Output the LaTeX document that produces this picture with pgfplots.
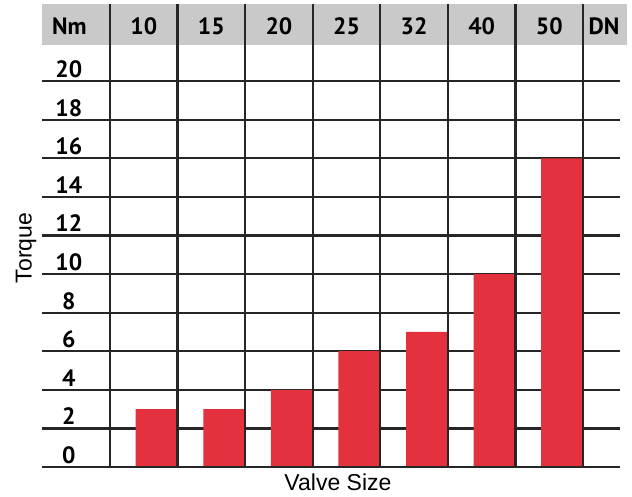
\documentclass[border=0pt]{standalone}
\usepackage{fontspec}
\setmainfont{PT Sans}
\newfontfamily\arial{Liberation Sans}
\usepackage{pgfplots}
\pgfplotsset{compat=1.18}
\definecolor{barred}{HTML}{E3313D}
\definecolor{headgray}{HTML}{C9C9C9}
\definecolor{gridc}{HTML}{262626}

\begin{document}
\begin{tikzpicture}
\begin{axis}[
  set layers=standard,
  scale only axis,
  width=292.3pt, height=231.5pt,
  xmin=-1, xmax=7.65, ymin=0, ymax=24,
  axis line style={draw=none},
  major tick length=0pt,
  clip=false,
  ybar, bar width=0.62,
  xtick={-0.6,0.5,1.5,2.5,3.5,4.5,5.5,6.5,7.31},
  xticklabels={Nm,10,15,20,25,32,40,50,DN},
  xticklabel pos=upper,
  xticklabel style={anchor=base, yshift=-15.5pt,
    font=\fontsize{11.8}{13}\selectfont\bfseries},
  ytick={0,2,...,20},
  yticklabels={0,2,4,6,8,10,12,14,16,18,20},
  yticklabel style={anchor=base, xshift=13.2pt, yshift=1.8pt,
    font=\fontsize{11.8}{13}\selectfont\bfseries},
  /pgf/number format/assume math mode=true,
  xlabel={Valve Size},
  xlabel style={at={(axis description cs:0.5056,0)}, anchor=base,
    yshift=-12pt, font=\arial\fontsize{11.5}{13}\selectfont},
  ylabel={Torque},
  ylabel style={at={(axis description cs:0,0.473)}, anchor=center,
    yshift=8.2pt, font=\arial\fontsize{11.5}{13}\selectfont},
]
\coordinate (ll) at (rel axis cs:0,0);
\coordinate (ur) at (rel axis cs:1,1);
% header band
\begin{pgfonlayer}{axis background}
\fill[headgray] (axis cs:-1,21.9) rectangle (axis cs:7.65,24);
\end{pgfonlayer}
% horizontal rules
\pgfplotsinvokeforeach{2,4,...,20}{
  \draw[gridc, line width=1.1pt] (axis cs:-1,#1) -- (axis cs:7.54,#1);
}
% torque per valve size (DN)
\addplot[fill=barred, draw=none] coordinates {
  (0.69,3) (1.69,3) (2.69,4) (3.69,6) (4.69,7) (5.69,10) (6.69,16)
};
\draw[gridc, line width=1.1pt] (axis cs:-1,0) -- (axis cs:7.54,0);
% column rules
\pgfplotsinvokeforeach{0,...,7}{
  \draw[gridc, line width=1.1pt] (axis cs:#1,0) -- (axis cs:#1,24);
}
\end{axis}
\pgfresetboundingbox
\path[use as bounding box] ([shift={(-21.2pt,-15pt)}]ll) rectangle ([shift={(2.5pt,2pt)}]ur);
\end{tikzpicture}
\end{document}
